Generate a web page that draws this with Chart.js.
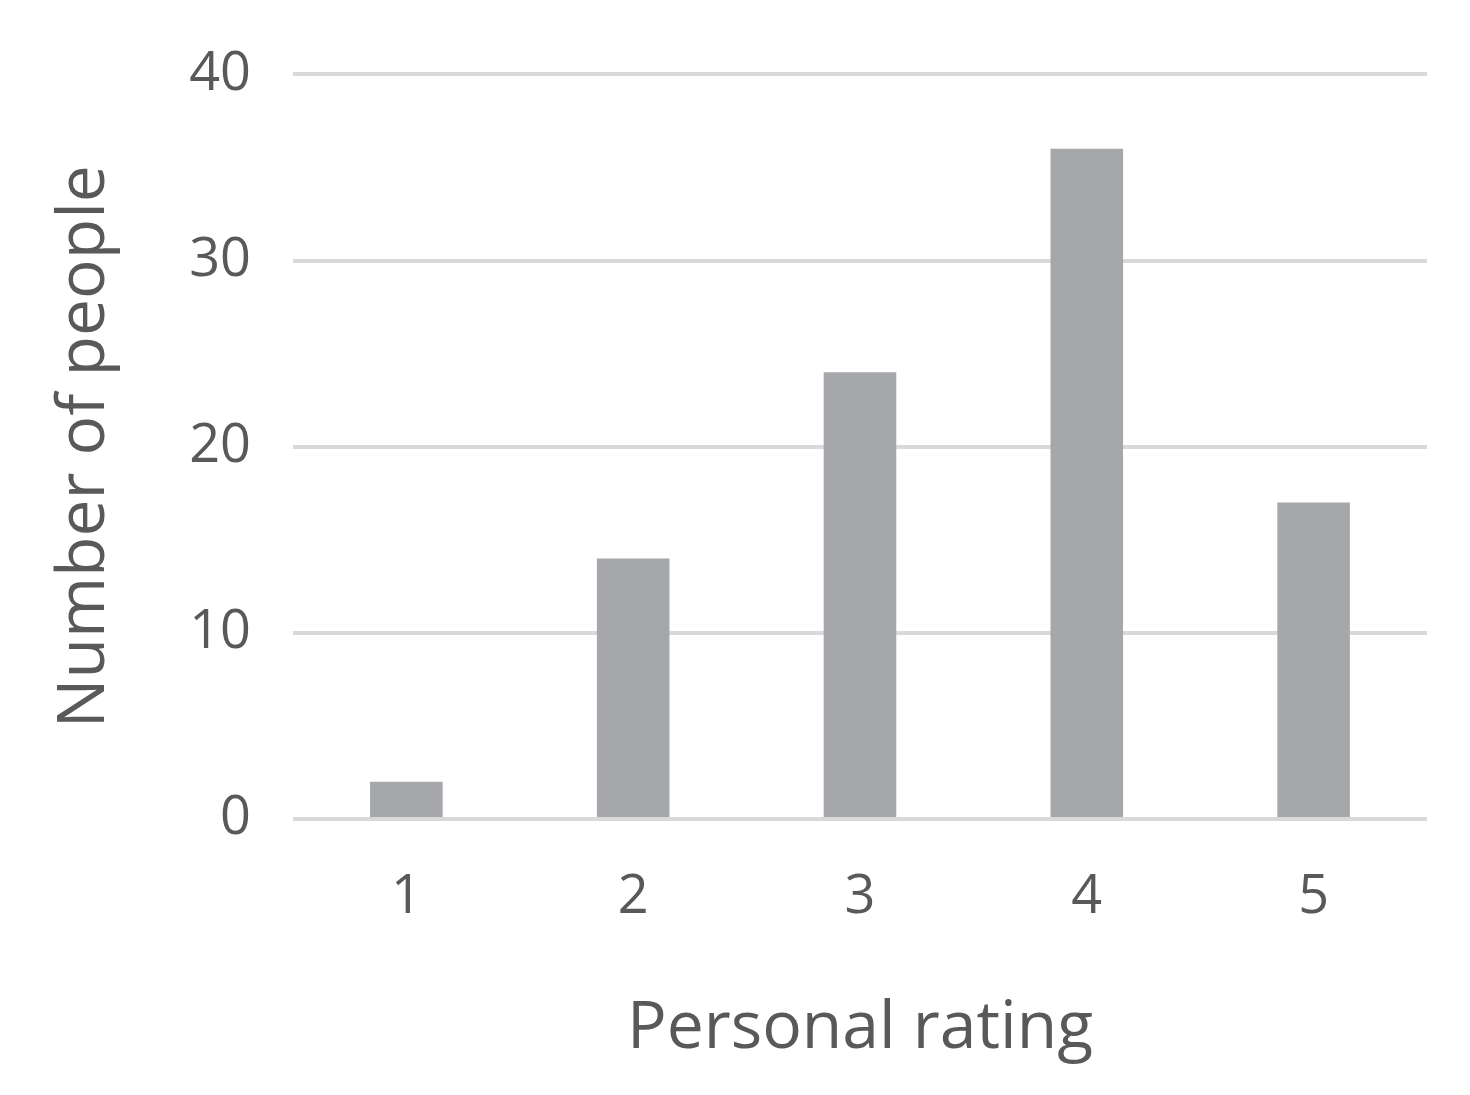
<!DOCTYPE html>
<html>
<head>
<meta charset="utf-8">
<script src="https://cdn.jsdelivr.net/npm/chart.js@4"></script>
<style>
  html, body { margin: 0; padding: 0; background: #fff; }
  #wrap { width: 1470px; height: 1095px; }
</style>
</head>
<body>
<div id="wrap"><canvas id="chart"></canvas></div>
<script>
// data
const ratings = ['1', '2', '3', '4', '5'];
const people = [2, 14, 24, 36, 17];

const textColor = '#595959';
const fontFamily = '"Open Sans", "Liberation Sans", sans-serif';

new Chart(document.getElementById('chart'), {
    type: 'bar',
    data: {
        labels: ratings,
        datasets: [{
            data: people,
            backgroundColor: '#a6a7aa',
            barPercentage: 0.32,
            categoryPercentage: 1.0
        }]
    },
    options: {
        responsive: true,
        maintainAspectRatio: false,
        animation: false,
        layout: { padding: { left: 42, right: 43, top: 43, bottom: 22 } },
        plugins: { legend: { display: false }, tooltip: { enabled: false } },
        scales: {
            x: {
                grid: { display: false },
                border: { display: false },
                ticks: { color: textColor, font: { family: fontFamily, size: 54 }, padding: 38 },
                title: {
                    display: true, text: 'Personal rating', color: textColor,
                    font: { family: fontFamily, size: 66 }, padding: { top: 22 }
                }
            },
            y: {
                min: 0, max: 40,
                ticks: { stepSize: 10, color: textColor, font: { family: fontFamily, size: 54 }, padding: 42 },
                grid: { color: '#d9d9d9', lineWidth: 4, drawTicks: false },
                border: { display: false },
                title: {
                    display: true, text: 'Number of people', color: textColor,
                    font: { family: fontFamily, size: 66 }, padding: { bottom: 22 }
                }
            }
        }
    }
});
</script>
</body>
</html>
